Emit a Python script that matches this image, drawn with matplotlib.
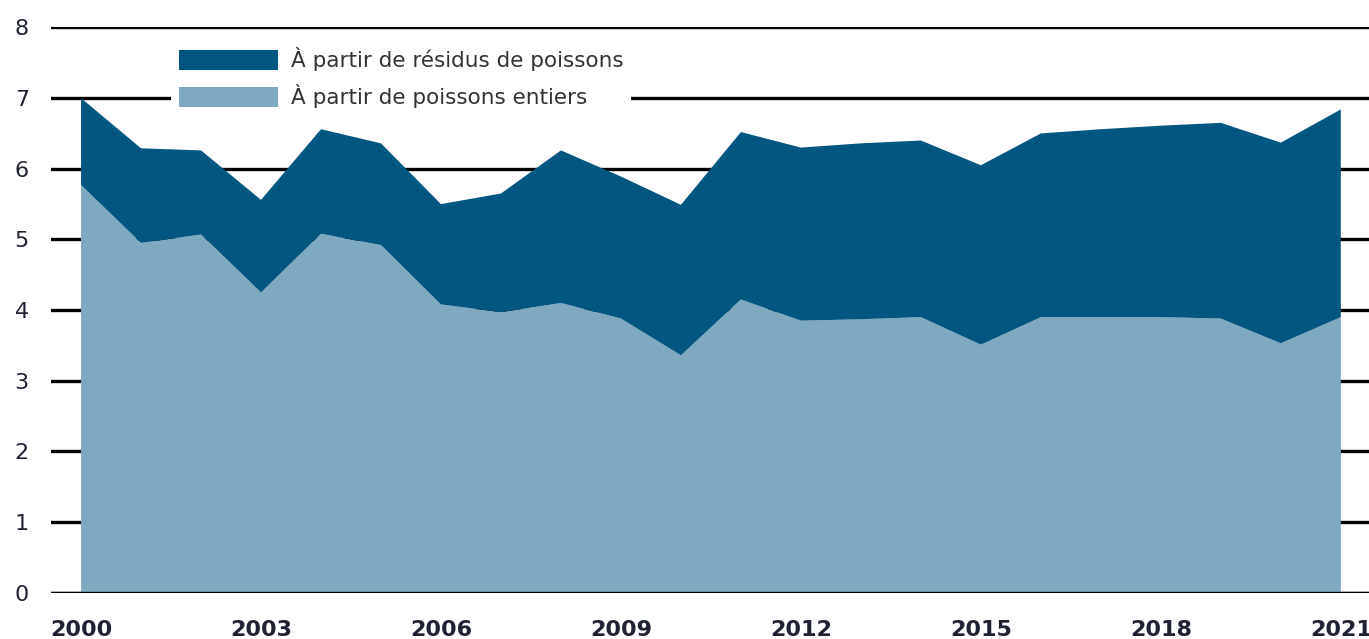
import matplotlib.pyplot as plt
from matplotlib.patches import Patch

# Data
years = list(range(2000, 2022))
whole_fish = [5.77, 4.95, 5.07, 4.25, 5.08, 4.92, 4.08, 3.97, 4.10, 3.88, 3.36,
              4.15, 3.85, 3.87, 3.90, 3.51, 3.90, 3.90, 3.90, 3.88, 3.53, 3.90]
total = [7.00, 6.29, 6.26, 5.56, 6.56, 6.36, 5.50, 5.65, 6.26, 5.89, 5.49,
         6.52, 6.30, 6.36, 6.40, 6.05, 6.50, 6.56, 6.61, 6.65, 6.37, 6.84]
residues = [t - w for t, w in zip(total, whole_fish)]

tick_years = [2000, 2003, 2006, 2009, 2012, 2015, 2018, 2021]
labels = ["À partir de résidus de poissons", "À partir de poissons entiers"]

dark = "#02567f"
light = "#7fa8c1"
txt = "#1e2233"

fig = plt.figure(figsize=(13.69, 6.39), dpi=100)
ax = fig.add_axes([0.0373, 0.0725, 0.9627, 0.8845])

ax.stackplot(years, whole_fish, residues, colors=[light, dark], zorder=2)

ax.set_xlim(1999.5, 2021.47)
ax.set_ylim(0, 8)
ax.set_yticks(range(0, 9))
ax.set_xticks(tick_years)
ax.yaxis.grid(True, color="black", linewidth=2.4, zorder=1)
ax.set_axisbelow(True)
ax.axhline(0, color="black", linewidth=2.4, zorder=3)
for s in ax.spines.values():
    s.set_visible(False)
ax.tick_params(axis="both", length=0)
ax.tick_params(axis="y", pad=16, labelsize=16, labelcolor=txt)
ax.tick_params(axis="x", pad=20, labelsize=16, labelcolor=txt)
for lab in ax.get_xticklabels():
    lab.set_fontweight("bold")

handles = [Patch(facecolor=dark), Patch(facecolor=light)]
leg = ax.legend(handles, labels, loc="upper left", bbox_to_anchor=(0.083, 0.997),
                fontsize=15.5, frameon=True, facecolor="white", edgecolor="none",
                framealpha=1, fancybox=False, handlelength=4.6, handleheight=1.0,
                labelspacing=0.6, handletextpad=0.6, borderpad=0.35)
leg.set_zorder(5)
for t in leg.get_texts():
    t.set_color("#333333")

fig.savefig("out.png", dpi=100)
